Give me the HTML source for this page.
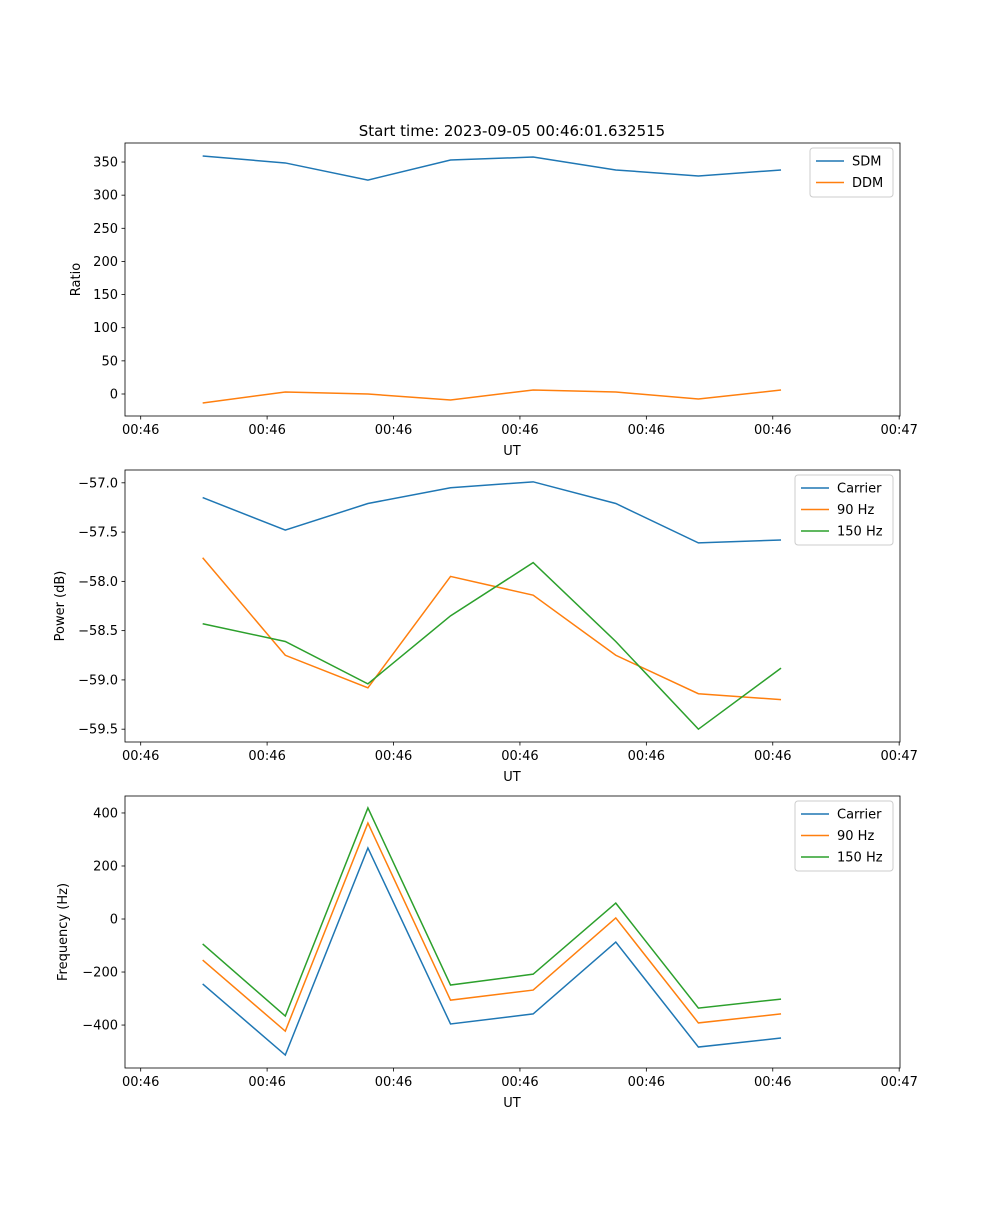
<!DOCTYPE html>
<html><head><meta charset="utf-8"><style>
body{margin:0;background:#fff}
svg{font-family:"DejaVu Sans","Liberation Sans",sans-serif;}
</style></head><body>
<svg id="fig" width="1000" height="1200" xmlns="http://www.w3.org/2000/svg">
<rect width="1000" height="1200" fill="#fff"/>
<text x="512" y="136" font-size="15" text-anchor="middle">Start time: 2023-09-05 00:46:01.632515</text>
</svg>
<script>
// shared x data (sample index) and tick positions in index units
const sampleIdx = [0,1,2,3,4,5,6,7];
const xTickVals = [-0.75,0.78,2.31,3.84,5.37,6.90,8.43];
const xTickLabels = ["00:46","00:46","00:46","00:46","00:46","00:46","00:47"];
// panel 1
const sdm = [359,348.6,322.8,353,357.5,338,329,338];
const ddm = [-13.6,3,0,-9,6,3,-7.5,6];
const ratioTicks = [0,50,100,150,200,250,300,350];
// panel 2
const powCarrier = [-57.15,-57.48,-57.21,-57.05,-56.99,-57.21,-57.61,-57.58];
const pow90 = [-57.76,-58.75,-59.08,-57.95,-58.14,-58.75,-59.14,-59.20];
const pow150 = [-58.43,-58.61,-59.04,-58.35,-57.81,-58.61,-59.50,-58.88];
const powTicks = [-57.0,-57.5,-58.0,-58.5,-59.0,-59.5];
// panel 3
const freqCarrier = [-245,-513,268,-396,-358,-87,-483,-449];
const freq90 = [-155,-423,362,-306,-268,4,-392,-358];
const freq150 = [-94,-366,419,-249,-208,60,-336,-302];
const freqTicks = [-400,-200,0,200,400];

const NS="http://www.w3.org/2000/svg";
const svg=document.getElementById('fig');
const C=['#1f77b4','#ff7f0e','#2ca02c'];
function el(tag,attrs,parent){const e=document.createElementNS(NS,tag);for(const k in attrs)e.setAttribute(k,attrs[k]);(parent||svg).appendChild(e);return e;}
const L=125,R=900,xmin=-0.94,xmax=8.44;
function xs(v){return L+(v-xmin)/(xmax-xmin)*(R-L);}

function panel(name,top,bot,ymin,ymax,yTicks,fmt,series,names,ylabel,leg){
  const g=el('g',{});
  
  
  const ys=v=>bot-(v-ymin)/(ymax-ymin)*(bot-top);
  series.forEach((s,i)=>{
    const p=el('polyline',{points:s.map((v,j)=>xs(sampleIdx[j])+','+ys(v)).join(' '),fill:'none',stroke:C[i],'stroke-width':1.5},g);
    
    
  });
  el('rect',{x:L,y:top,width:R-L,height:bot-top,fill:'none',stroke:'#000','stroke-width':0.8},g);
  xTickVals.forEach((v,i)=>{const x=xs(v);
    el('line',{x1:x,x2:x,y1:bot,y2:bot+3.5,stroke:'#000','stroke-width':0.8},g);
    const t=el('text',{x:x,y:bot+18,'font-size':13,'text-anchor':'middle'},g);t.textContent=xTickLabels[i];
    
    
  });
  yTicks.forEach(v=>{const y=ys(v);
    el('line',{x1:L-3.5,x2:L,y1:y,y2:y,stroke:'#000','stroke-width':0.8},g);
    const t=el('text',{x:L-7,y:y+4.5,'font-size':13,'text-anchor':'end'},g);t.textContent=fmt(v);
    
    
  });
  const xl=el('text',{x:512,y:bot+39,'font-size':13,'text-anchor':'middle'},g);xl.textContent='UT';
  
  
  const cy=(top+bot)/2;
  const yl=el('text',{x:0,y:0,'font-size':13,'text-anchor':'middle',transform:`translate(${leg.yx},${cy}) rotate(-90)`},g);yl.textContent=ylabel;
  
  
  const lg=el('g',{},g);
  
  
  el('rect',{x:leg.x,y:top+5,width:893-leg.x,height:names.length*21+7,fill:'#fff',stroke:'#ccc',rx:3},lg);
  names.forEach((n,i)=>{const y=top+18+i*21.5;
    el('line',{x1:leg.x+6,x2:leg.x+34,y1:y,y2:y,stroke:C[i],'stroke-width':1.5},lg);
    const t=el('text',{x:leg.x+42,y:y+4.5,'font-size':13},lg);t.textContent=n;
    
    
  });
}
panel('ratio',143,416,-33.2,378.7,ratioTicks,v=>String(v),[sdm,ddm],['SDM','DDM'],'Ratio',{x:810,yx:80});
panel('power',470,742,-59.63,-56.87,powTicks,v=>'\u2212'+Math.abs(v).toFixed(1),[powCarrier,pow90,pow150],['Carrier','90 Hz','150 Hz'],'Power (dB)',{x:795,yx:64});
panel('frequency',796,1068,-562,464,freqTicks,v=>(v<0?'\u2212':'')+Math.abs(v),[freqCarrier,freq90,freq150],['Carrier','90 Hz','150 Hz'],'Frequency (Hz)',{x:795,yx:67});
</script>
</body></html>
